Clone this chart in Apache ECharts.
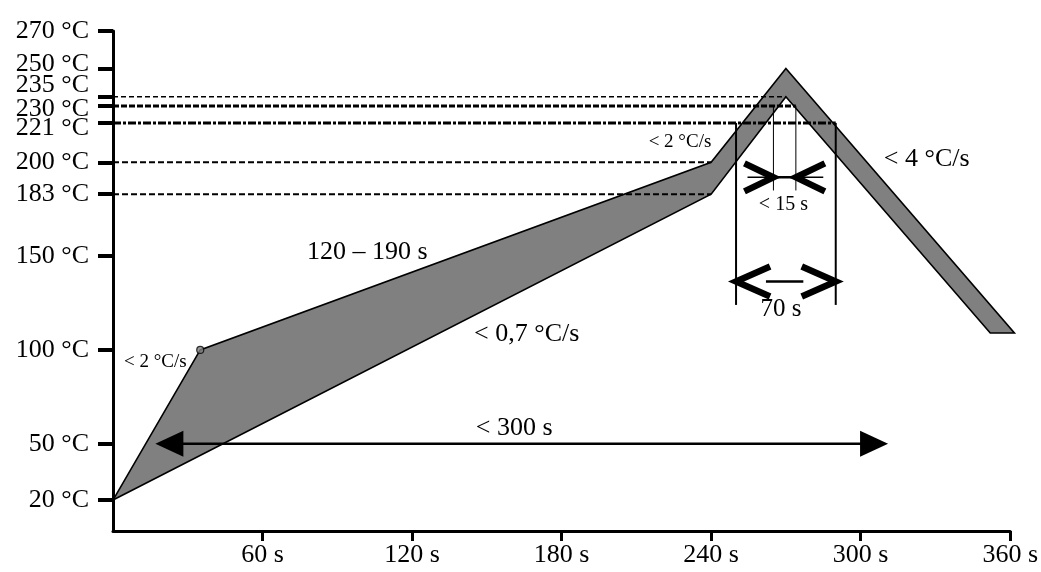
<!DOCTYPE html>
<html>
<head>
<meta charset="utf-8">
<script src="https://cdn.jsdelivr.net/npm/echarts@6/dist/echarts.min.js"></script>
<style>
  html, body { margin: 0; padding: 0; background: #fff; }
  #chart { width: 1041px; height: 572px; }
</style>
</head>
<body>
<div id="chart"></div>
<script>
// ---------- data ----------
const TIME_TICKS = [60, 120, 180, 240, 300, 360];
const TEMP_TICKS = [20, 50, 100, 150, 183, 200, 221, 230, 235, 250, 270];

// reflow profile band: upper (max) boundary and lower (min) boundary
const UPPER_TIME = [0, 35, 240, 270, 361.7];
const UPPER_TEMP = [20, 100, 200, 250, 109];
const LOWER_TIME = [0, 240, 270, 352];
const LOWER_TEMP = [20, 183, 235, 109];

// marked point on the ramp
const KNEE_TIME = [35];
const KNEE_TEMP = [100];

// dashed reference levels and where they stop
const REF_TEMPS = [235, 230, 221, 200, 183];
const REF_END_TIME = [270, 274, 290, 240, 240];

// 70 s window above liquidus
const WIN70_TIME = [250, 290];
const WIN70_TEMP = [221, 124];
const WIN70_ARROW_TEMP = 136.5;
const WIN70_BAR_TIME = [262, 277];

// < 15 s window near peak
const WIN15_TIME = [265, 274];
const WIN15_TEMP = [230, 185];
const WIN15_ARROW_TEMP = 192;
const WIN15_BAR_TIME = [254.6, 285];

// < 300 s span
const SPAN300_TIME = [17, 311];
const SPAN300_TEMP = 50;

// annotation texts
const NOTE_TEXT = ['120 – 190 s', '< 0,7 °C/s', '< 300 s', '< 2 °C/s', '< 2 °C/s', '< 4 °C/s', '< 15 s', '70 s'];
const NOTE_TIME = [102, 166, 161, 17, 227.5, 326.5, 269, 268];
const NOTE_TEMP = [152, 108.5, 58.5, 93.5, 211, 201.5, 177.5, 121.5];

// ---------- styles ----------
const FONT = '"Liberation Serif", "Times New Roman", serif';
const NOTE_SIZE = [26, 26, 26, 19, 19, 26, 20, 25];
const AXIS_FONT = 26;
const REF_STYLE = [
  { width: 1.5, type: [5, 3] },
  { width: 3, type: [6, 2] },
  { width: 3, type: [8, 2, 3, 2] },
  { width: 2, type: [6, 3] },
  { width: 2, type: [6, 3] }
];

const zip = (a, b) => a.map((v, i) => [v, b[i]]);
const polygonPts = zip(UPPER_TIME, UPPER_TEMP).concat(zip(LOWER_TIME, LOWER_TEMP).reverse());

function segSeries(data, width, type) {
  return {
    type: 'line', data: data, showSymbol: false, silent: true, animation: false,
    lineStyle: { color: '#000', width: width, type: type || 'solid' }, z: 4
  };
}

const series = [];

// profile band
series.push({
  type: 'custom', silent: true, animation: false, z: 3,
  data: polygonPts,
  encode: { x: 0, y: 1 },
  renderItem: function (params, api) {
    if (params.dataIndex !== 0) return null;
    const pts = polygonPts.map(p => api.coord(p));
    return { type: 'polygon', shape: { points: pts },
      style: { fill: '#808080', stroke: '#000', lineWidth: 1.6, lineJoin: 'miter' } };
  }
});

// dashed reference levels
REF_TEMPS.forEach((t, i) => {
  series.push(segSeries([[0, t], [REF_END_TIME[i], t]], REF_STYLE[i].width, REF_STYLE[i].type));
});

// window verticals
WIN70_TIME.forEach(t => series.push(segSeries([[t, WIN70_TEMP[0]], [t, WIN70_TEMP[1]]], 2)));
WIN15_TIME.forEach(t => series.push(segSeries([[t, WIN15_TEMP[0]], [t, WIN15_TEMP[1]]], 1)));
// bars of the window arrows
series.push(segSeries([[WIN15_BAR_TIME[0], WIN15_ARROW_TEMP], [WIN15_BAR_TIME[1], WIN15_ARROW_TEMP]], 1.5));
series.push(segSeries([[WIN15_TIME[0], WIN15_ARROW_TEMP], [WIN15_TIME[1], WIN15_ARROW_TEMP]], 2.5));
series.push(segSeries([[WIN70_BAR_TIME[0], WIN70_ARROW_TEMP], [WIN70_BAR_TIME[1], WIN70_ARROW_TEMP]], 2.5));

// chevron arrow heads: [tipTime, temp, dir(+1 right, -1 left)]
const CHEVRONS = [
  [WIN15_TIME[0], WIN15_ARROW_TEMP, 1],
  [WIN15_TIME[1], WIN15_ARROW_TEMP, -1],
  [WIN70_TIME[0], WIN70_ARROW_TEMP, -1],
  [WIN70_TIME[1], WIN70_ARROW_TEMP, 1]
];
const CHEV_SIZE = [[29, 28], [29, 28], [34, 30], [34, 30]];
series.push({
  type: 'custom', silent: true, animation: false, z: 6,
  data: CHEVRONS, encode: { x: 0, y: 1 },
  renderItem: function (params, api) {
    const d = CHEVRONS[params.dataIndex];
    const p = api.coord([d[0], d[1]]);
    const w = CHEV_SIZE[params.dataIndex][0], h = CHEV_SIZE[params.dataIndex][1];
    const dir = d[2];
    return { type: 'polyline', shape: { points: [[p[0] - dir * w, p[1] - h / 2], [p[0], p[1]], [p[0] - dir * w, p[1] + h / 2]] },
      style: { stroke: '#000', lineWidth: 6.5, fill: null, lineJoin: 'miter', lineCap: 'butt' } };
  }
});

// < 300 s double arrow with filled triangle heads
series.push({
  type: 'custom', silent: true, animation: false, z: 6,
  data: [[SPAN300_TIME[0], SPAN300_TEMP], [SPAN300_TIME[1], SPAN300_TEMP]], encode: { x: 0, y: 1 },
  renderItem: function (params, api) {
    if (params.dataIndex !== 0) return null;
    const a = api.coord([SPAN300_TIME[0], SPAN300_TEMP]);
    const b = api.coord([SPAN300_TIME[1], SPAN300_TEMP]);
    const L = 28, H = 13;
    return { type: 'group', children: [
      { type: 'line', shape: { x1: a[0] + L - 2, y1: a[1], x2: b[0] - L + 2, y2: b[1] }, style: { stroke: '#000', lineWidth: 2.5 } },
      { type: 'polygon', shape: { points: [[a[0], a[1]], [a[0] + L, a[1] - H], [a[0] + L, a[1] + H]] }, style: { fill: '#000' } },
      { type: 'polygon', shape: { points: [[b[0], b[1]], [b[0] - L, b[1] - H], [b[0] - L, b[1] + H]] }, style: { fill: '#000' } }
    ] };
  }
});

// knee marker
series.push({
  type: 'scatter', silent: true, animation: false, z: 7,
  data: zip(KNEE_TIME, KNEE_TEMP), symbol: 'circle', symbolSize: 7,
  itemStyle: { color: '#808080', borderColor: '#000', borderWidth: 1.2 }
});

// annotation texts
series.push({
  type: 'custom', silent: true, animation: false, z: 8,
  data: zip(NOTE_TIME, NOTE_TEMP), encode: { x: 0, y: 1 },
  renderItem: function (params, api) {
    const i = params.dataIndex;
    const p = api.coord([NOTE_TIME[i], NOTE_TEMP[i]]);
    return { type: 'text', x: p[0], y: p[1],
      style: { text: NOTE_TEXT[i], fill: '#000', font: NOTE_SIZE[i] + 'px ' + FONT, align: 'center', verticalAlign: 'middle' } };
  }
});

// vertical nudges (px) of crowded y labels, as in the reference
const LABEL_SHIFT = { 250: -4, 235: -11, 230: 3, 221: 5 };

const richBase = { fontFamily: FONT, fontSize: AXIS_FONT, color: '#000' };
const rich = { n: Object.assign({}, richBase) };
Object.keys(LABEL_SHIFT).forEach(k => {
  const s = LABEL_SHIFT[k];
  rich['s' + k] = Object.assign({}, richBase, { padding: s < 0 ? [0, 0, -2 * s, 0] : [2 * s, 0, 0, 0] });
});

const option = {
  backgroundColor: '#fff',
  animation: false,
  grid: { left: 113, right: 27, top: 31, bottom: 41 },
  xAxis: {
    type: 'value', min: 0, max: 360,
    axisLine: { lineStyle: { color: '#000', width: 3 } },
    axisTick: { show: true, customValues: TIME_TICKS, length: 10, lineStyle: { color: '#000', width: 3 } },
    axisLabel: { customValues: TIME_TICKS, formatter: v => v + ' s', color: '#000', fontFamily: FONT, fontSize: AXIS_FONT, margin: 11 },
    splitLine: { show: false }
  },
  yAxis: {
    type: 'value', min: 3.5, max: 270,
    axisLine: { show: true, lineStyle: { color: '#000', width: 3 } },
    axisTick: { show: true, customValues: TEMP_TICKS, length: 15, lineStyle: { color: '#000', width: 4 } },
    axisLabel: {
      customValues: TEMP_TICKS, color: '#000', fontFamily: FONT, fontSize: AXIS_FONT, margin: 24,
      formatter: function (v) {
        return (LABEL_SHIFT[v] === undefined ? '{n|' : '{s' + v + '|') + v + ' °C}';
      },
      rich: rich
    },
    splitLine: { show: false }
  },
  series: series
};

const chart = echarts.init(document.getElementById('chart'));
chart.setOption(option);
</script>
</body>
</html>
